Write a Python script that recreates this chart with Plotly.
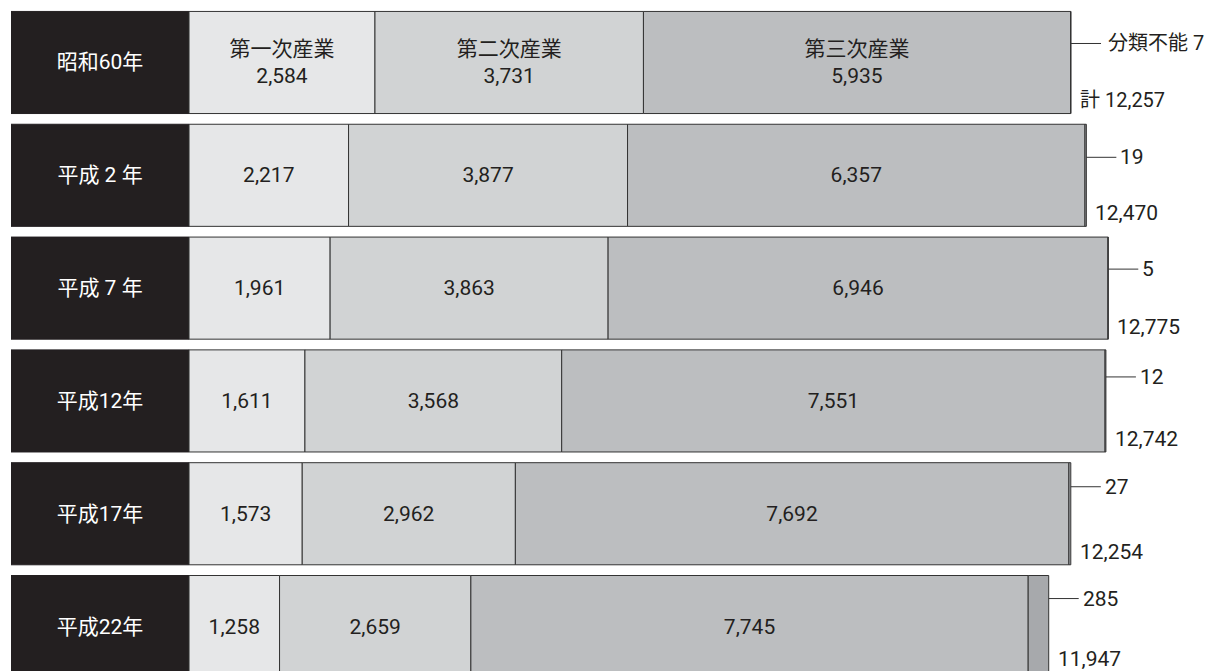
import plotly.graph_objects as go

# ---- data ----
years = ["昭和60年", "平成 2 年", "平成 7 年", "平成12年", "平成17年", "平成22年"]
primary = [2584, 2217, 1961, 1611, 1573, 1258]
secondary = [3731, 3877, 3863, 3568, 2962, 2659]
tertiary = [5935, 6357, 6946, 7551, 7692, 7745]
unclassified = [7, 19, 5, 12, 27, 285]
sector_names = ["第一次産業", "第二次産業", "第三次産業", "分類不能"]

series = [primary, secondary, tertiary, unclassified]
totals = [sum(v) for v in zip(*series)]

# ---- style ----
colors = ["#e6e7e8", "#d1d3d4", "#bcbec0", "#a7a9ac"]
edge = "#333333"
dark = "#231f20"
FONT = "Roboto, Noto Sans CJK JP, sans-serif"
LABEL_UNITS = 2474          # width of the black year box in axis units
BAR_W = 0.905
leader_dy = [19, 18, 19, 24, 27, 28]
total_dy = [38, 38, 39, 38, 38, 32]

fig = go.Figure()

# black year boxes
fig.add_trace(go.Bar(
    y=years, x=[LABEL_UNITS] * len(years), base=[-LABEL_UNITS] * len(years),
    orientation="h", width=BAR_W,
    marker=dict(color=dark, line=dict(color=dark, width=1)),
    text=years, textposition="inside", insidetextanchor="middle", textangle=0,
    textfont=dict(color="white", size=21, family=FONT),
    hoverinfo="skip", showlegend=False,
))

cum = [0] * len(years)
for i, (name, vals) in enumerate(zip(sector_names, series)):
    if i < 3:
        txt = [f"{v:,}" for v in vals]
        txt[0] = f"{name}<br>{vals[0]:,}"
    else:
        txt = [""] * len(vals)
    fig.add_trace(go.Bar(
        y=years, x=vals, base=list(cum), orientation="h", width=BAR_W,
        name=name,
        marker=dict(color=colors[i], line=dict(color=edge, width=1)),
        text=txt, textposition="inside", insidetextanchor="middle", textangle=0,
        textfont=dict(color=dark, size=21, family=FONT),
        showlegend=False,
    ))
    cum = [c + v for c, v in zip(cum, vals)]

annotations = []
for r, (yr, tot, unc) in enumerate(zip(years, totals, unclassified)):
    lab = f"分類不能 {unc}" if r == 0 else f"{unc}"
    annotations.append(dict(
        x=tot, y=yr, xref="x", yref="y", text=lab, showarrow=True,
        ax=30, ay=0, axref="pixel", ayref="pixel", xanchor="left",
        arrowhead=0, arrowwidth=1, arrowcolor=edge, yshift=leader_dy[r],
        borderpad=6 if r == 0 else 3,
        font=dict(size=20 if r == 0 else 21, color=dark, family=FONT),
    ))
    tlab = f"計 {tot:,}" if r == 0 else f"{tot:,}"
    annotations.append(dict(
        x=tot, y=yr, xref="x", yref="y", text=tlab, showarrow=False,
        xanchor="left", xshift=7, yshift=-total_dy[r],
        font=dict(size=20 if r == 0 else 21, color=dark, family=FONT),
    ))

fig.update_layout(
    width=1206, height=663,
    margin=dict(l=3, r=0, t=0, b=0),
    barmode="overlay",
    plot_bgcolor="white", paper_bgcolor="white",
    xaxis=dict(range=[-LABEL_UNITS, 14244], visible=False, fixedrange=True),
    yaxis=dict(type="category", categoryorder="array", categoryarray=years,
               range=[5.394, -0.483], visible=False),
    annotations=annotations,
    uniformtext=dict(mode=False),
)

fig.write_html("out.html")
